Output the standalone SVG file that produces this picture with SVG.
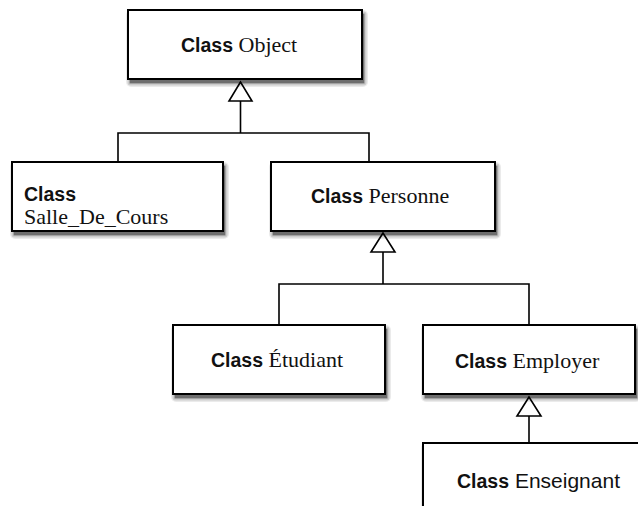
<svg xmlns="http://www.w3.org/2000/svg" width="638" height="506" viewBox="0 0 638 506">
<style>
.box{fill:#fff;stroke:#000;stroke-width:2}
.s1{fill:#000;opacity:0.08}
.s2{fill:#000;opacity:0.13}
.s3{fill:#000;opacity:0.2}
.s4{fill:#000;opacity:0.32}
.c{font-family:"Liberation Sans",Arial,sans-serif;font-weight:bold;font-size:19.5px;fill:#111}
.n{font-family:"Liberation Serif","Times New Roman",serif;font-weight:normal;font-size:22px;fill:#111}
.ns{font-family:"Liberation Sans",Arial,sans-serif;font-weight:normal;font-size:21px;fill:#111}
.ln{fill:none;stroke:#000;stroke-width:1.6}
.tri{fill:#fff;stroke:#000;stroke-width:1.6;stroke-linejoin:miter}
</style>
<rect width="638" height="506" fill="#fff"/>
<g id="connectors">
<path class="ln" d="M240.5 101 V133 M118 162 V133 H369 V162"/>
<polygon class="tri" points="240.5,82 229,101 252,101"/>
<path class="ln" d="M383 252 V284 M279 325 V284 H529 V325"/>
<polygon class="tri" points="383,233 371,252 395,252"/>
<path class="ln" d="M529 416 V443"/>
<polygon class="tri" points="529,397 517,416 541,416"/>
</g>
<g id="object">
<g transform="translate(130,14)">
<rect class="s1" x="-4" y="-4" width="242" height="77" rx="5"/>
<rect class="s2" x="-2.5" y="-2.5" width="239" height="74" rx="3"/>
<rect class="s3" x="-1" y="-1" width="236" height="71" rx="1.5"/>
<rect class="s4" x="0" y="0" width="234" height="69"/>
</g>
<rect class="box" x="128" y="10" width="234" height="69"/>
<text x="181" y="52"><tspan class="c">Class</tspan><tspan class="n"> Object</tspan></text>
</g>
<g id="salle">
<g transform="translate(14,166)">
<rect class="s1" x="-4" y="-4" width="219" height="77" rx="5"/>
<rect class="s2" x="-2.5" y="-2.5" width="216" height="74" rx="3"/>
<rect class="s3" x="-1" y="-1" width="213" height="71" rx="1.5"/>
<rect class="s4" x="0" y="0" width="211" height="69"/>
</g>
<rect class="box" x="12" y="162" width="211" height="69"/>
<text x="24" y="201" class="c">Class</text>
<text x="24" y="224" class="n">Salle_De_Cours</text>
</g>
<g id="personne">
<g transform="translate(273,166)">
<rect class="s1" x="-4" y="-4" width="232" height="77" rx="5"/>
<rect class="s2" x="-2.5" y="-2.5" width="229" height="74" rx="3"/>
<rect class="s3" x="-1" y="-1" width="226" height="71" rx="1.5"/>
<rect class="s4" x="0" y="0" width="224" height="69"/>
</g>
<rect class="box" x="271" y="162" width="224" height="69"/>
<text x="311" y="203"><tspan class="c">Class</tspan><tspan class="n"> Personne</tspan></text>
</g>
<g id="etudiant">
<g transform="translate(175,329)">
<rect class="s1" x="-4" y="-4" width="220" height="77" rx="5"/>
<rect class="s2" x="-2.5" y="-2.5" width="217" height="74" rx="3"/>
<rect class="s3" x="-1" y="-1" width="214" height="71" rx="1.5"/>
<rect class="s4" x="0" y="0" width="212" height="69"/>
</g>
<rect class="box" x="173" y="325" width="212" height="69"/>
<text x="211" y="367"><tspan class="c">Class</tspan><tspan class="n"> Étudiant</tspan></text>
</g>
<g id="employer">
<g transform="translate(425,329)">
<rect class="s1" x="-4" y="-4" width="220" height="77" rx="5"/>
<rect class="s2" x="-2.5" y="-2.5" width="217" height="74" rx="3"/>
<rect class="s3" x="-1" y="-1" width="214" height="71" rx="1.5"/>
<rect class="s4" x="0" y="0" width="212" height="69"/>
</g>
<rect class="box" x="423" y="325" width="212" height="69"/>
<text x="455" y="368"><tspan class="c">Class</tspan><tspan class="n"> Employer</tspan></text>
</g>
<g id="enseignant">
<g transform="translate(425,447)">
<rect class="s1" x="-4" y="-4" width="238" height="88" rx="5"/>
<rect class="s2" x="-2.5" y="-2.5" width="235" height="85" rx="3"/>
<rect class="s3" x="-1" y="-1" width="232" height="82" rx="1.5"/>
</g>
<rect class="box" x="423" y="443" width="230" height="80"/>
<text x="457" y="488"><tspan class="c">Class</tspan><tspan class="ns"> Enseignant</tspan></text>
</g>
</svg>
